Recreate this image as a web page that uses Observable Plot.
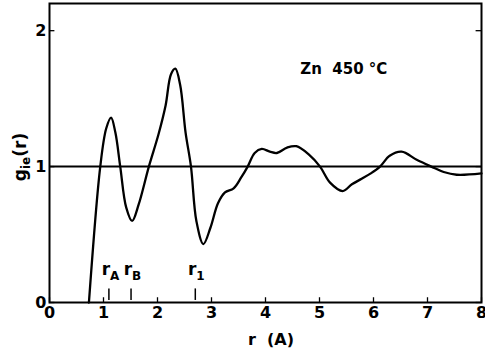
<!DOCTYPE html>
<html>
<head>
<meta charset="utf-8">
<script src="https://cdn.jsdelivr.net/npm/d3@7"></script>
<script src="https://cdn.jsdelivr.net/npm/@observablehq/plot@0.6"></script>
<style>
  html, body { margin: 0; padding: 0; background: #fff; }
  #chart svg { display: block; }
</style>
</head>
<body>
<div id="chart"></div>
<script>
// r in Angstrom
const rValues = [0.73, 0.94, 1.05, 1.14, 1.22, 1.31, 1.42, 1.53, 1.65, 1.84, 2.02, 2.15, 2.25, 2.33, 2.42, 2.52, 2.62, 2.72, 2.85, 2.98, 3.12, 3.25, 3.41, 3.55, 3.67, 3.8, 3.93, 4.08, 4.21, 4.4, 4.57, 4.8, 5.01, 5.2, 5.43, 5.6, 5.78, 5.95, 6.12, 6.3, 6.52, 6.8, 7.07, 7.3, 7.54, 8.0];
// g_ie(r)
const gValues = [0, 1.0, 1.28, 1.36, 1.25, 1.0, 0.70, 0.60, 0.72, 1.0, 1.24, 1.45, 1.68, 1.72, 1.6, 1.25, 1.0, 0.6, 0.43, 0.55, 0.73, 0.81, 0.84, 0.92, 1.0, 1.1, 1.13, 1.11, 1.10, 1.14, 1.15, 1.09, 1.0, 0.88, 0.82, 0.87, 0.91, 0.95, 1.0, 1.08, 1.11, 1.05, 1.0, 0.96, 0.94, 0.95];

const xTicks = [0, 1, 2, 3, 4, 5, 6, 7, 8];
const yTicks = [0, 1, 2];

const markerNames = ["A", "B", "1"];
const markerR = [1.10, 1.51, 2.70];

const refLine = [1];
const annotationText = ["Zn  450 °C"];
const annotationX = [5.45];
const annotationY = [1.72];

const curve = rValues.map((r, i) => ({r, g: gValues[i]}));
const markers = markerR.map((r, i) => ({r, name: markerNames[i]}));
const annotation = annotationText.map((t, i) => ({t, x: annotationX[i], y: annotationY[i]}));

const font = "DejaVu Sans";

const chart = Plot.plot({
  width: 485,
  height: 349,
  marginLeft: 49,
  marginRight: 4,
  marginTop: 3,
  marginBottom: 47,
  x: {domain: [0, 8]},
  y: {domain: [0, 2.2]},
  style: {fontFamily: font, fontSize: "16px", fontWeight: "bold", color: "black", background: "white"},
  marks: [
    Plot.axisX(xTicks, {tickSize: 0, tickPadding: 4, label: null, fontSize: 16, tickFormat: d3.format("d"), fontWeight: "bold"}),
    Plot.axisY(yTicks, {tickSize: 0, tickPadding: 3, label: null, fontSize: 16, tickFormat: d3.format("d"), fontWeight: "bold"}),
    Plot.ruleX(xTicks, {x: d => d, y1: 0, y2: 0.035, strokeWidth: 1.3}),
    Plot.ruleY(yTicks, {y: d => d, x1: 0, x2: 0.1, strokeWidth: 1.3}),
    Plot.ruleY(yTicks, {y: d => d, x1: 7.9, x2: 8, strokeWidth: 1.3}),
    Plot.ruleY(refLine, {strokeWidth: 2}),
    Plot.line(curve, {x: "r", y: "g", curve: "catmull-rom", strokeWidth: 2.3}),
    Plot.ruleX(markers, {x: "r", y1: 0.015, y2: 0.1, strokeWidth: 1.5}),
    Plot.text(markers, {x: "r", text: () => "r", frameAnchor: "bottom", dy: -28, dx: -3, textAnchor: "middle", fontSize: 17, fontWeight: "bold"}),
    Plot.text(markers, {x: "r", text: "name", frameAnchor: "bottom", dy: -23, dx: 1, textAnchor: "start", fontSize: 12, fontWeight: "bold"}),
    Plot.text(annotation, {x: "x", y: "y", text: "t", fontSize: 15, textAnchor: "middle", fontWeight: "bold"}),
    Plot.frame({strokeWidth: 2})
  ]
});

const svg = d3.select(chart);
// x-axis title
svg.append("text")
  .attr("x", 271).attr("y", 345)
  .attr("text-anchor", "middle")
  .attr("font-family", font).attr("font-size", 16).attr("font-weight", "bold")
  .text("r  (A)");
// y-axis title with subscript
const yl = svg.append("text")
  .attr("transform", "translate(26,157) rotate(-90)")
  .attr("text-anchor", "middle")
  .attr("font-family", font).attr("font-size", 17).attr("font-weight", "bold");
yl.append("tspan").text("g");
yl.append("tspan").attr("dy", 4).attr("font-size", 12).text("ie");
yl.append("tspan").attr("dy", -4).text("(r)");

document.getElementById("chart").appendChild(chart);
</script>
</body>
</html>
